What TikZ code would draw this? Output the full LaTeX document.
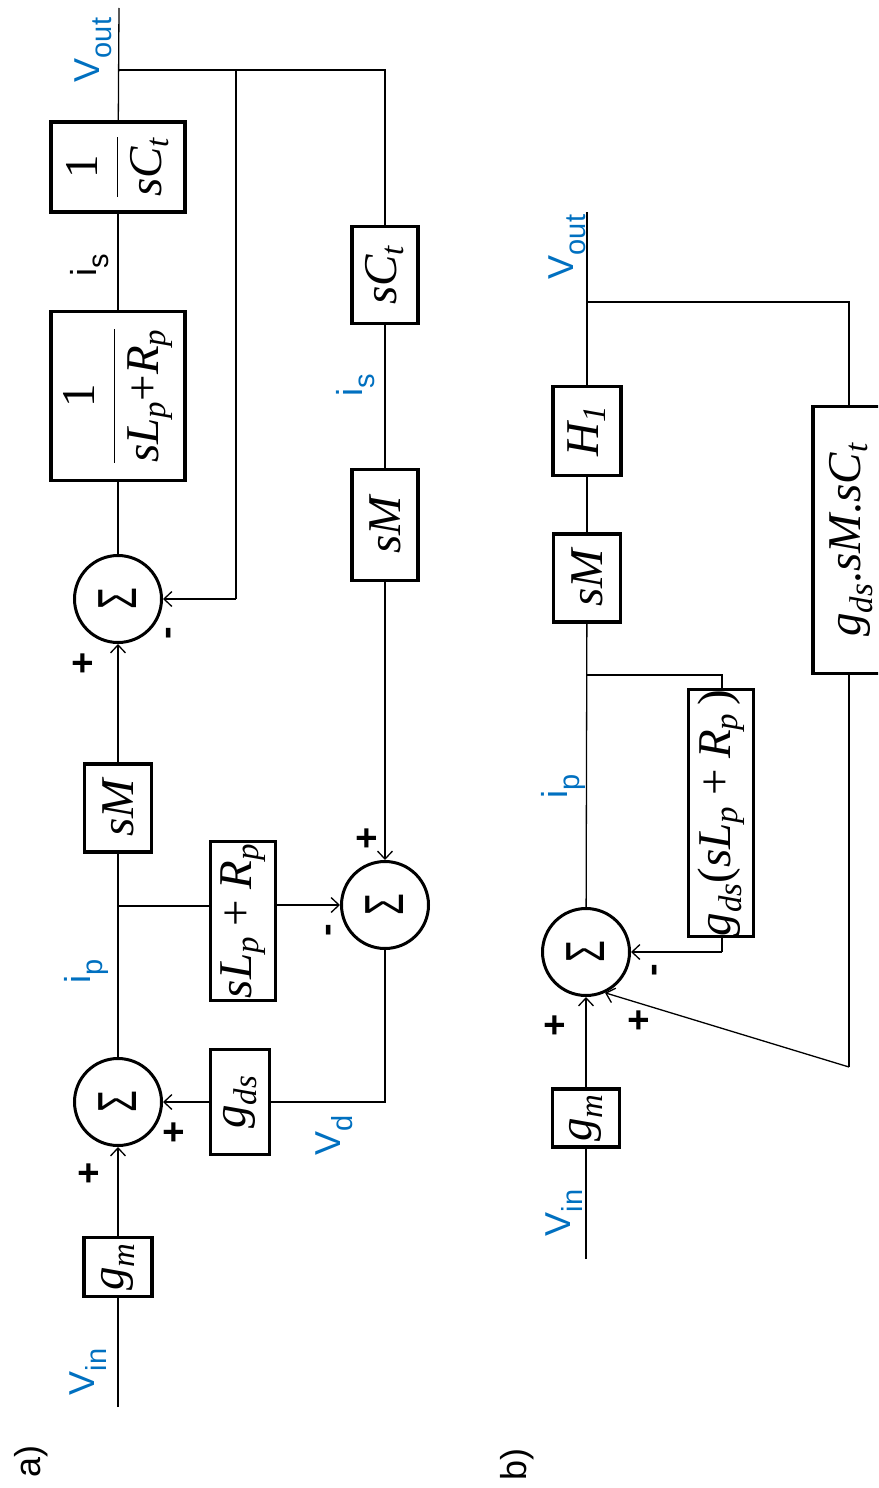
\documentclass[tikz,border=0pt]{standalone}
\usepackage{fix-cm}
\usepackage{amsmath}
\usepackage{graphicx}
\usepackage{fontspec}
\setmainfont{Liberation Serif}
\newfontfamily\lab{Liberation Sans}
\usetikzlibrary{arrows.meta}
\definecolor{sigblue}{HTML}{0070C0}
% italic and upright letters in the block formulas, set in the serif text face
\newcommand\mi[1]{\textit{#1}}
\newcommand\tr[1]{\textrm{#1}}
\newcommand\plus{\mathbin{\tr{+}}}
\newcommand\rt[1]{\rotatebox{90}{#1}}
% subscript of the signal names
\newcommand\lsub[1]{\raisebox{-12pt}{\fontsize{29}{29}\selectfont #1}}
\newcommand\sigmasym{\rt{\scalebox{0.64}[1]{\lab\fontsize{55}{55}\selectfont\symbol{"03A3}}}}
\tikzset{
  wire/.style={line width=1.3pt},
  arr/.style={wire, -{Straight Barb[length=8pt,width=15pt,line width=1.3pt]}},
  blk/.style={draw, line width=3.4pt, inner sep=0pt, fill=white,
              font=\fontsize{47}{50}\selectfont},
  sumnode/.style={draw, circle, line width=3pt, minimum size=87pt, inner sep=0pt},
  sig/.style={rotate=90, inner sep=0pt, text=sigblue, font=\lab\fontsize{36}{38}\selectfont},
  blab/.style={rotate=90, inner sep=0pt, font=\lab\fontsize{36}{38}\selectfont},
  pm/.style={rotate=90, inner sep=0pt, font=\lab\bfseries\fontsize{38}{38}\selectfont},
}
\begin{document}
\begin{tikzpicture}[x=1pt, y=-1pt]
\useasboundingbox (0,0) rectangle (878,1488);
\fill[white] (0,0) rectangle (878,1488);
\clip (0,0) rectangle (878,1488);

% ---------------- a) ----------------
\coordinate (vinA) at (118,1407);
\node[blk, minimum width=68pt, minimum height=59pt] (gmA) at (118,1267) {\rt{$\mi{g}_{\mi{m}}$}};
\node[sumnode] (sumA1) at (118,1102) {\sigmasym};
\node[blk, minimum width=59pt, minimum height=105pt] (gdsA) at (240,1102) {\rt{$\mi{g}_{\mi{ds}}$}};
\node[blk, minimum width=65pt, minimum height=159pt] (sLpA) at (243,921) {\rt{$\mi{sL}_{\mi{p}}\plus\mi{R}_{\mi{p}}$}};
\node[sumnode] (sumA3) at (385,905) {\sigmasym};
\node[blk, minimum width=67pt, minimum height=88pt] (sMA1) at (118,808) {\rt{$\mi{sM}$}};
\node[sumnode] (sumA2) at (118,599) {\sigmasym};
\node[blk, minimum width=134pt, minimum height=169pt] (invA) at (118,396)
  {\rt{$\dfrac{\tr{1}}{\mi{sL}_{\mi{p}}\tr{+}\mi{R}_{\mi{p}}}$}};
\node[blk, minimum width=134pt, minimum height=90pt] (invCt) at (118,167)
  {\rt{$\dfrac{\tr{1}}{\mi{sC}_{\mi{t}}}$}};
\node[blk, minimum width=66pt, minimum height=111pt] (sMA2) at (385,525) {\rt{$\mi{sM}$}};
\node[blk, minimum width=66pt, minimum height=97pt] (sCtA) at (385,275) {\rt{$\mi{sC}_{\mi{t}}$}};
\coordinate (voutA) at (119,8);
\coordinate (jA) at (118,70);
\coordinate (jAmid) at (236,70);
\coordinate (jAend) at (385,70);
\coordinate (brA) at (118,906);

\draw[wire] (vinA) -- (gmA);
\draw[arr] (gmA) -- (sumA1);
\draw[arr] (gdsA) -- (sumA1);
\draw[wire] (sumA3) |- (gdsA.east);
\draw[wire] (sumA1) -- (sMA1);
\draw[wire] (brA) -- (brA -| sLpA.west);
\draw[arr] (sLpA.east |- sumA3.west) -- (sumA3.west);
\draw[arr] (sMA1) -- (sumA2);
\draw[wire] (sumA2) -- (invA);
\draw[wire] (invA) -- (invCt);
\draw[wire] (invCt) -- (voutA);
\draw[wire] (jA) -- (jAend) -- (sCtA);
\draw[wire] (sCtA) -- (sMA2);
\draw[arr] (sMA2) -- (sumA3);
\draw[wire] (jAmid) -- (jAmid |- sumA2.east);
\draw[arr] (jAmid |- sumA2.east) -- (sumA2.east);

\node[pm] at (90,1173) {+};
\node[pm] at (175,1132) {+};
\node[pm] at (84,663) {+};
\node[pm] at (172,633) {-};
\node[pm] at (368,838) {+};
\node[pm] at (332,930) {-};

\node[sig] at (86,971) {i\lsub{p}};
\node[sig] at (334,1135) {V\lsub{d}};
\node[sig] at (356,385) {i\lsub{s}};
\node[blab] at (90,265) {i\lsub{s}};
\node[sig] at (93,50) {V\lsub{out}};
\node[sig] at (88,1372) {V\lsub{in}};
\node[blab] at (31,1461) {a)};

% ---------------- b) ----------------
\coordinate (vinB) at (586,1259);
\node[blk, minimum width=67pt, minimum height=58pt] (gmB) at (586,1118) {\rt{$\mi{g}_{\mi{m}}$}};
\node[sumnode] (sumB) at (586,952) {\sigmasym};
\node[blk, minimum width=65pt, minimum height=224pt] (gdsLB) at (721,813)
  {\rt{$\mi{g}_{\mi{ds}}\tr{(}\mi{sL}_{\mi{p}}\plus\mi{R}_{\mi{p}}\,\tr{)}$}};
\node[blk, minimum width=67pt, minimum height=88pt] (sMB) at (587,578) {\rt{$\mi{sM}$}};
\node[blk, minimum width=68pt, minimum height=89pt] (H1) at (587,431) {\rt{$\mi{H}_{\mi{1}}$}};
\node[blk, minimum width=76pt, minimum height=267pt] (big) at (851,540)
  {\rt{$\mi{g}_{\mi{ds}}\tr{.}\mi{sM}\tr{.}\mi{sC}_{\mi{t}}$}};
\coordinate (voutB) at (587,212);
\coordinate (jB) at (587,302);
\coordinate (jBend) at (849,302);
\coordinate (brB) at (587,675);
\coordinate (brBend) at (722,675);
\coordinate (fbLow) at (849,1067);

\draw[wire] (vinB) -- (gmB);
\draw[arr] (gmB) -- (sumB);
\draw[wire] (sumB) -- (sMB);
\draw[wire] (sMB) -- (H1);
\draw[wire] (H1) -- (voutB);
\draw[wire] (brB) -- (brBend) -- (brBend |- gdsLB.north);
\draw[wire] (brBend |- gdsLB.south) -- (brBend |- sumB.east);
\draw[arr] (brBend |- sumB.east) -- (sumB.east);
\draw[wire] (jB) -- (jBend) -- (jBend |- big.north);
\draw[wire] (jBend |- big.south) -- (fbLow);
\draw[arr] (fbLow) -- (sumB.-65);

\node[pm] at (556,1025) {+};
\node[pm] at (640,1020) {+};
\node[pm] at (658,970) {-};

\node[sig] at (563,786) {i\lsub{p}};
\node[sig] at (567,247) {V\lsub{out}};
\node[sig] at (564,1213) {V\lsub{in}};
\node[blab] at (517,1464) {b)};
\end{tikzpicture}
\end{document}
